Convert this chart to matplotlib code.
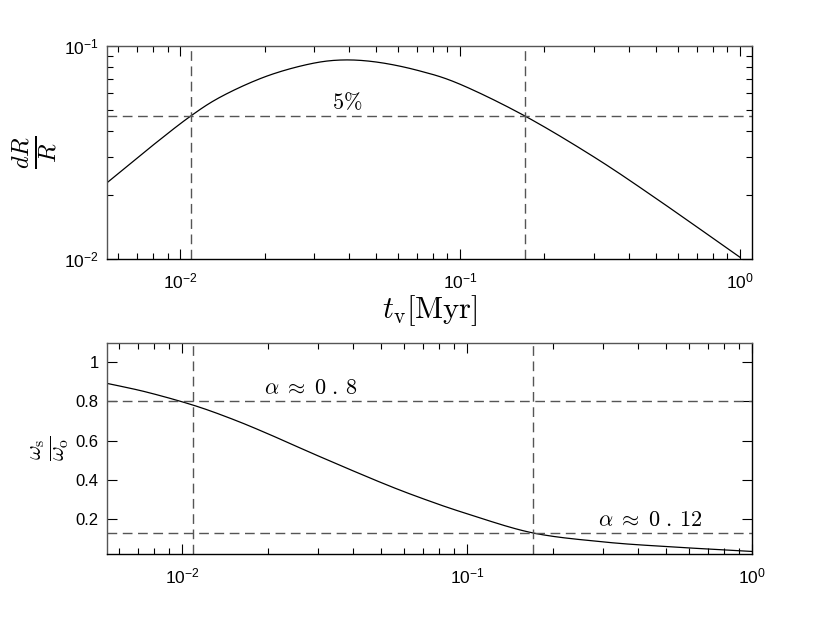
import matplotlib
matplotlib.use("Agg")
import matplotlib.pyplot as plt
import numpy as np
from matplotlib.ticker import LogLocator, FixedLocator, NullFormatter, FixedFormatter

plt.rcParams['font.family'] = ['Liberation Sans', 'DejaVu Sans']
plt.rcParams['mathtext.fontset'] = 'custom'
plt.rcParams['mathtext.rm'] = 'Liberation Sans'
plt.rcParams['mathtext.it'] = 'Liberation Sans:italic'
plt.rcParams['mathtext.bf'] = 'Liberation Sans:bold'

# ---- data ----
t_top = [0.00546, 0.0079, 0.0109, 0.0141, 0.02, 0.0282, 0.0372, 0.0501, 0.0708, 0.1, 0.17, 0.3, 0.5, 1.0]
dR_R = [0.0228, 0.0339, 0.047, 0.0582, 0.0716, 0.0817, 0.0859, 0.0841, 0.0767, 0.0661, 0.047, 0.0302, 0.0193, 0.0102]

t_bot = [0.00546, 0.0075, 0.011, 0.015, 0.02, 0.03, 0.05, 0.07, 0.1, 0.17, 0.3, 0.5, 1.0]
omega_ratio = [0.892, 0.848, 0.78, 0.710, 0.635, 0.522, 0.385, 0.303, 0.226, 0.128, 0.082, 0.058, 0.033]

t_marks = [0.0109, 0.1706]
level_top = 0.047
levels_bot = [0.8, 0.125]

xticks = [0.01, 0.1, 1.0]
xticklabels = [r'$10^{-2}$', r'$10^{-1}$', r'$10^{0}$']
yticks_top = [0.01, 0.1]
yticklabels_top = [r'$10^{-2}$', r'$10^{-1}$']
yticks_bot = [0.2, 0.4, 0.6, 0.8, 1.0]
yticklabels_bot = ['0.2', '0.4', '0.6', '0.8', '1']

fig = plt.figure(figsize=(8.3, 6.24), dpi=100)
ax1 = fig.add_axes([0.1289, 0.5849, 0.777, 0.3414])
ax2 = fig.add_axes([0.1289, 0.1122, 0.777, 0.3386])

dash_kw = dict(color='#555555', lw=1.0, dashes=(7, 4))


def smooth(t, y, logy=True, per=20):
    """Catmull-Rom curve through the read points (in log-x space)."""
    lt = np.log10(t)
    ly = np.log10(y) if logy else np.asarray(y, dtype=float)
    pts = list(zip(lt, ly))
    xs, ys = [], []
    for i in range(len(pts) - 1):
        p0 = pts[i - 1] if i > 0 else pts[i]
        p1 = pts[i]
        p2 = pts[i + 1]
        p3 = pts[i + 2] if i + 2 < len(pts) else pts[i + 1]
        for s in np.linspace(0, 1, per, endpoint=False):
            s2, s3 = s * s, s * s * s
            vals = []
            for k in (0, 1):
                vals.append(0.5 * ((2 * p1[k]) + (-p0[k] + p2[k]) * s
                                   + (2 * p0[k] - 5 * p1[k] + 4 * p2[k] - p3[k]) * s2
                                   + (-p0[k] + 3 * p1[k] - 3 * p2[k] + p3[k]) * s3))
            xs.append(vals[0]); ys.append(vals[1])
    xs.append(pts[-1][0]); ys.append(pts[-1][1])
    xs = 10 ** np.array(xs)
    ys = 10 ** np.array(ys) if logy else np.array(ys)
    return xs, ys


# ---- top panel ----
xs, ys = smooth(t_top, dR_R, logy=True)
ax1.plot(xs, ys, color='black', lw=0.9)
for tm in t_marks:
    ax1.axvline(tm, **dash_kw)
ax1.axhline(level_top, **dash_kw)
ax1.set_xscale('log')
ax1.set_yscale('log')
ax1.set_xlim(0.00546, 1.104)
ax1.set_ylim(0.01, 0.1)
ax1.text(0.0395, 0.0478, r'$5\%$', math_fontfamily='cm', fontsize=16, ha='center', va='bottom')
ax1.set_xlabel(r'$t_{\rm v}[{\rm Myr}]$', math_fontfamily='cm', fontsize=22, labelpad=1)
ax1.set_ylabel(r'$\frac{dR}{R}$', math_fontfamily='cm', fontsize=25, labelpad=3)

# ---- bottom panel ----
xs2, ys2 = smooth(t_bot, omega_ratio, logy=False)
ax2.plot(xs2, ys2, color='black', lw=0.9)
for tm in t_marks:
    ax2.axvline(tm, **dash_kw)
for lv in levels_bot:
    ax2.axhline(lv, **dash_kw)
ax2.set_xscale('log')
ax2.set_xlim(0.00546, 1.0)
ax2.set_ylim(0.02, 1.1)
ax2.text(0.0282, 0.81, r'$\alpha\;\approx\;0\,\,.\,8$', math_fontfamily='cm', fontsize=16, ha='center', va='bottom')
ax2.text(0.44, 0.135, r'$\alpha\;\approx\;0\,\,.\,12$', math_fontfamily='cm', fontsize=16, ha='center', va='bottom')
ax2.set_ylabel(r'$\frac{\omega_{\rm s}}{\omega_{\rm o}}$', math_fontfamily='cm', fontsize=23, labelpad=3)

for ax in (ax1, ax2):
    ax.xaxis.set_major_locator(FixedLocator(xticks))
    ax.xaxis.set_major_formatter(FixedFormatter(xticklabels))
    ax.xaxis.set_minor_locator(LogLocator(base=10, subs=np.arange(2, 10), numticks=20))
    ax.xaxis.set_minor_formatter(NullFormatter())
    ax.tick_params(which='both', direction='in', top=True, right=True, labelsize=12.5, width=0.8)
    ax.tick_params(which='major', length=7, pad=6)
    ax.tick_params(which='minor', length=4)
    ax.tick_params(axis='x', which='major', pad=9)
    for sp in ax.spines.values():
        sp.set_linewidth(1.0)
        sp.set_color('black')
    ax.spines['top'].set_color('#555555')
    ax.spines['left'].set_color('#555555')

ax1.yaxis.set_major_locator(FixedLocator(yticks_top))
ax1.yaxis.set_major_formatter(FixedFormatter(yticklabels_top))
ax1.yaxis.set_minor_locator(LogLocator(base=10, subs=np.arange(2, 10), numticks=20))
ax1.yaxis.set_minor_formatter(NullFormatter())

ax2.yaxis.set_major_locator(FixedLocator(yticks_bot))
ax2.yaxis.set_major_formatter(FixedFormatter(yticklabels_bot))
ax2.yaxis.set_minor_locator(FixedLocator([]))
ax2.tick_params(axis='y', labelsize=12)

fig.savefig('out.png', dpi=100)
